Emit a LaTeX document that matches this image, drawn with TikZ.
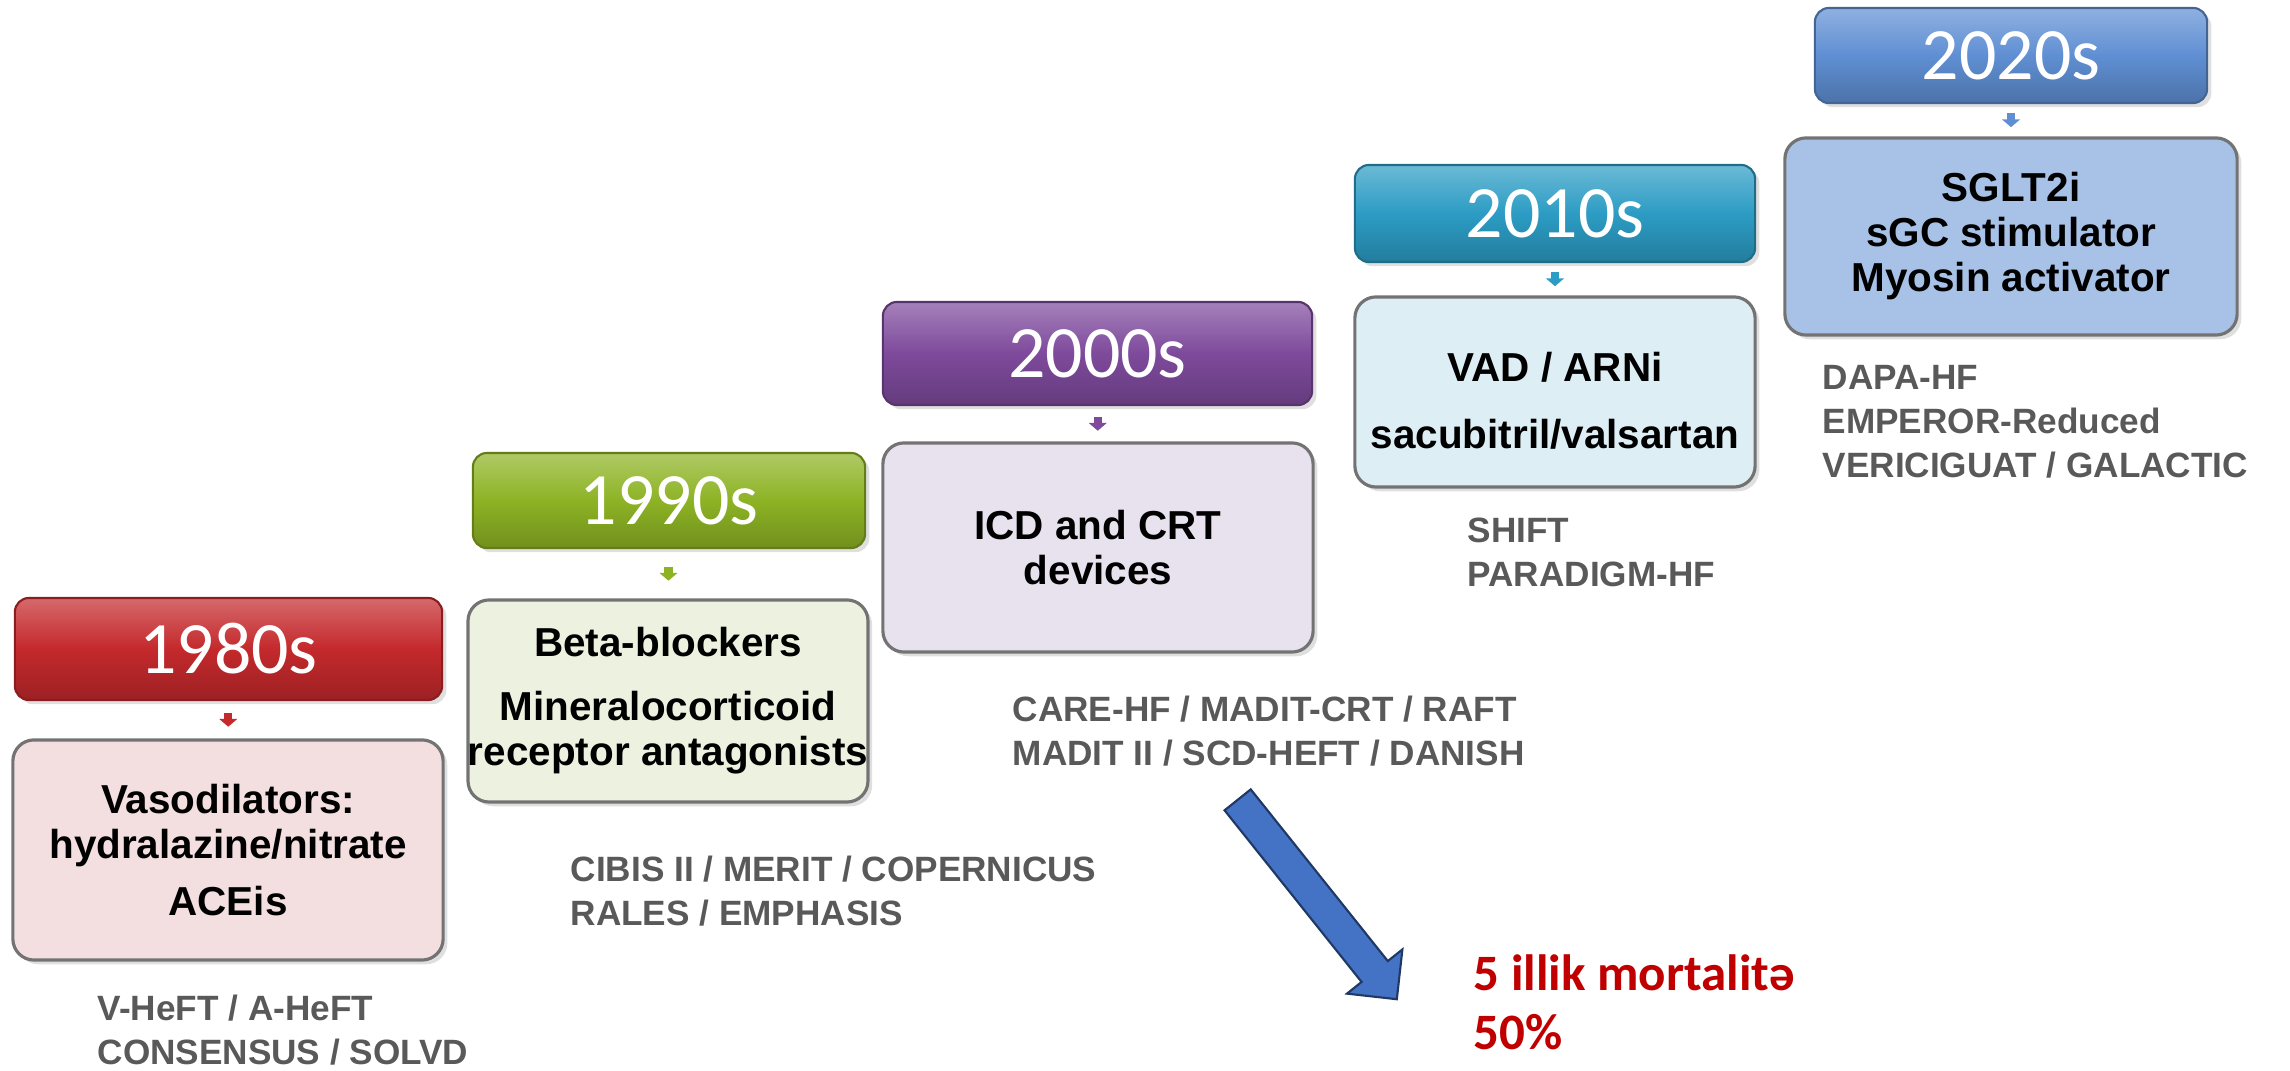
\documentclass[tikz,border=0pt]{standalone}
\usepackage{fontspec}
\setmainfont{Liberation Sans}
\newfontfamily\calibri{Carlito}
\usetikzlibrary{arrows.meta,shapes.arrows,shadows,calc}

\definecolor{redhead}{HTML}{C4292C}
\definecolor{greenhead}{HTML}{8DB324}
\definecolor{purplehead}{HTML}{7E4A9C}
\definecolor{tealhead}{HTML}{2C9CC4}
\definecolor{bluehead}{HTML}{5F8FD3}
\definecolor{pinkbody}{HTML}{F3DFDF}
\definecolor{greenbody}{HTML}{EDF2E0}
\definecolor{purplebody}{HTML}{E7E2EE}
\definecolor{tealbody}{HTML}{DDEEF5}
\definecolor{bluebody}{HTML}{A8C2E7}
\definecolor{trialgray}{HTML}{595959}
\definecolor{mortred}{HTML}{C00000}
\definecolor{arrowblue}{HTML}{4472C4}
\definecolor{arrowedge}{HTML}{1F3864}

\begin{document}
\begin{tikzpicture}[x=0.01cm, y=-0.01cm,
    header/.style={rounded corners=4pt, draw=#1!70!black, line width=0.6pt,
      top color=#1!70!white, bottom color=#1!80!black, middle color=#1,
      text=white, font=\calibri\fontsize{21}{25}\selectfont, inner sep=0pt,
      drop shadow={opacity=0.25, shadow xshift=1.2pt, shadow yshift=-1.2pt}},
    body/.style={rounded corners=6pt, draw=black!55, line width=0.9pt, fill=#1,
      align=center, font=\bfseries\fontsize{11.5}{12.8}\selectfont, inner sep=0pt,
      drop shadow={opacity=0.25, shadow xshift=1.2pt, shadow yshift=-1.2pt}},
    gaparrow/.style={draw=#1, line width=2.4pt, -{Triangle[length=2.2pt, width=5pt]}},
    trials/.style={anchor=west, align=left, text=trialgray, inner sep=0pt,
      font=\bfseries\fontsize{10}{12.5}\selectfont},
    mort/.style={anchor=west, align=left, text=mortred, inner sep=0pt,
      font=\calibri\bfseries\fontsize{14.5}{16.8}\selectfont}]
%% the page, in pixels of the reference (y runs downwards)
  \useasboundingbox (0,0) rectangle (2290,1071);
%% decade headers
  \node[header=redhead, minimum width=4.27cm, minimum height=1.02cm] (h80) at (228.5,649) {1980s};
  \node[header=greenhead, minimum width=3.92cm, minimum height=0.95cm] (h90) at (669,500.5) {1990s};
  \node[header=purplehead, minimum width=4.29cm, minimum height=1.03cm] (h00) at (1097.5,353.5) {2000s};
  \node[header=tealhead, minimum width=4.0cm, minimum height=0.97cm] (h10) at (1555,213.5) {2010s};
  \node[header=bluehead, minimum width=3.92cm, minimum height=0.95cm] (h20) at (2011,55.5) {2020s};
%% therapy boxes
  \node[body=pinkbody, minimum width=4.3cm, minimum height=2.2cm] (b80) at (228,850)
    {Vasodilators:\\hydralazine/nitrate\\[3.4pt]ACEis};
  \node[body=greenbody, minimum width=3.9cm, minimum height=2.02cm] (b90) at (668,701)
    {Beta-blockers\\[5.4pt]Mineralocorticoid\\receptor antagonists};
  \node[body=purplebody, minimum width=4.3cm, minimum height=2.09cm] (b00) at (1098,547.5)
    {ICD and CRT\\devices};
  \node[body=tealbody, minimum width=4.0cm, minimum height=1.9cm] (b10) at (1555,392)
    {\raisebox{-4pt}[\height][\depth]{\begin{tabular}{@{}c@{}}VAD / ARNi\\[6.5pt]sacubitril/valsartan\end{tabular}}};
  \node[body=bluebody, minimum width=4.52cm, minimum height=1.97cm] (b20) at (2011,236.5)
    {SGLT2i\\sGC stimulator\\Myosin activator};
%% little arrows between header and box
  \foreach \d/\c in {80/redhead,90/greenhead,00/purplehead,10/tealhead,20/bluehead}
    \draw[gaparrow=\c] ($(h\d.south)!0.5!(b\d.north)+(0,-7)$) -- ($(h\d.south)!0.5!(b\d.north)+(0,7)$);
%% trials
  \node[trials] (t80) at (97,1030.5) {V-HeFT / A-HeFT\\CONSENSUS / SOLVD};
  \node[trials] (t90) at (570,891.5) {CIBIS II / MERIT / COPERNICUS\\RALES / EMPHASIS};
  \node[trials] (t00) at (1012,731) {CARE-HF / MADIT-CRT / RAFT\\MADIT II / SCD-HEFT / DANISH};
  \node[trials] (t10) at (1467,552.5) {SHIFT\\PARADIGM-HF};
  \node[trials] (t20) at (1822,421.5) {DAPA-HF\\EMPEROR-Reduced\\VERICIGUAT / GALACTIC};
%% the big blue arrow and the mortality note
  \node[single arrow, fill=arrowblue, draw=arrowedge, line width=0.6pt, inner sep=0.157cm,
    single arrow head extend=0.187cm, minimum height=2.55cm, rotate=-51.4] (down) at (1312,893) {};
  \node[mort] (m) at (1473,1002.5) {5 illik mortalitə\\50\%};
\end{tikzpicture}
\end{document}
